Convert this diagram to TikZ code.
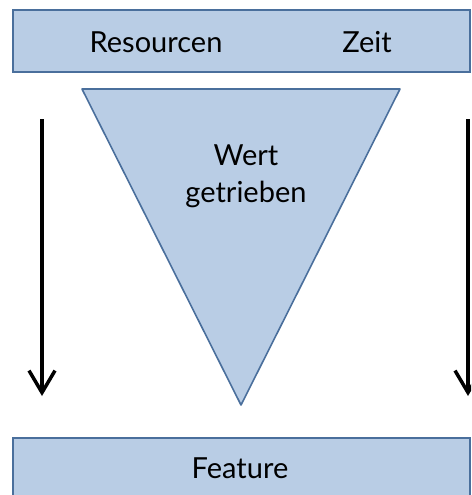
\documentclass[tikz,border=0pt]{standalone}
\usepackage{fontspec}
\setmainfont{Lato}
\usetikzlibrary{arrows.meta}
\definecolor{boxfill}{HTML}{B9CDE5}
\definecolor{boxline}{HTML}{4A6F9C}
\tikzset{
  bar/.style={draw=boxline, fill=boxfill, line width=2pt, rectangle, anchor=north west, inner sep=0pt},
  label/.style={font=\fontsize{29}{37}\selectfont, text=black, inner sep=0pt},
  flow/.style={line width=3.5pt, -{Straight Barb[length=22pt, width=26pt, line width=3.5pt]}},
}
\begin{document}
\begin{tikzpicture}[x=1pt, y=-1pt]
  \useasboundingbox (0,0) rectangle (471,495);
  \clip (0,0) rectangle (471,495);
  % top bar
  \node[bar, minimum width=457pt, minimum height=62pt] (top) at (12,9) {};
  \node[label] (res) at (156,42) {Resourcen};
  \node[label] (zeit) at (367,42) {Zeit};
  % value-driven funnel
  \coordinate (tl) at (82,89);
  \coordinate (tr) at (400,89);
  \coordinate (apex) at (241,405);
  \draw[draw=boxline, fill=boxfill, line width=1.6pt, line join=round] (tl) -- (tr) -- (apex) -- cycle;
  \node[label, align=center] (wert) at (246,176) {Wert\\getrieben};
  % side arrows
  \coordinate (la) at (42,119);
  \coordinate (lb) at (42,396);
  \coordinate (ra) at (468,119);
  \coordinate (rb) at (468,396);
  \draw[flow] (la) -- (lb);
  \draw[flow] (ra) -- (rb);
  % bottom bar
  \node[bar, minimum width=457pt, minimum height=80pt] (feat) at (12,437) {};
  \node[label] (ftext) at (240,468) {Feature};
\end{tikzpicture}
\end{document}
